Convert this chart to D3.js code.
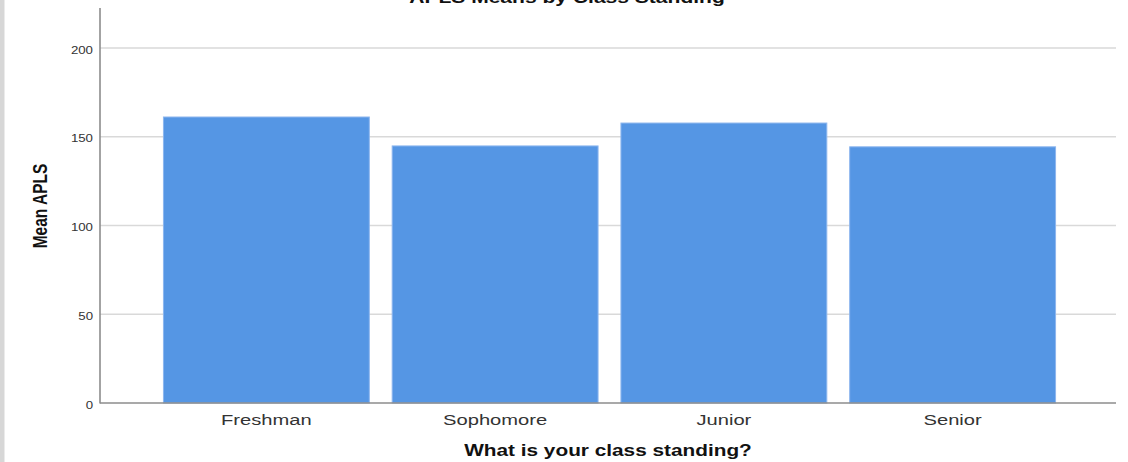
<!DOCTYPE html>
<html>
<head>
<meta charset="utf-8">
<script src="https://cdn.jsdelivr.net/npm/d3@7"></script>
<style>
  html, body { margin: 0; padding: 0; background: #fff; }
  svg { display: block; }
  text { font-family: "Liberation Sans", Arial, sans-serif; }
</style>
</head>
<body>
<svg id="chart" width="1128" height="462"></svg>
<script>
const categories = ["Freshman", "Sophomore", "Junior", "Senior"];
const meanAPLS = [161.1, 144.8, 157.7, 144.3];
const yTicks = [0, 50, 100, 150, 200];
const title = "APLS Means by Class Standing";
const xTitle = "What is your class standing?";
const yTitle = "Mean APLS";

const svg = d3.select("#chart");
const W = 1128, H = 462;
const sx = 1.3; // horizontal stretch of the original picture

svg.append("rect").attr("x", 0).attr("y", 0).attr("width", W).attr("height", H).attr("fill", "#fff");
svg.append("rect").attr("x", 0).attr("y", 0).attr("width", 4.5).attr("height", H).attr("fill", "#d7d7d7");

const plotL = 100, plotR = 1116, plotT = 8, plotB = 403;

const y = d3.scaleLinear().domain([0, 222.5]).range([plotB, plotT]);
const x = d3.scaleBand().domain(categories).range([152, 1067]).paddingInner(0.1).paddingOuter(0.05);

// gridlines
svg.append("g").selectAll("line").data(yTicks.filter(d => d > 0)).join("line")
  .attr("x1", plotL).attr("x2", plotR)
  .attr("y1", d => y(d)).attr("y2", d => y(d))
  .attr("stroke", "#d9d9d9").attr("stroke-width", 1.5);

// bars
svg.append("g").selectAll("rect").data(categories).join("rect")
  .attr("x", d => x(d))
  .attr("width", x.bandwidth())
  .attr("y", (d, i) => y(meanAPLS[i]))
  .attr("height", (d, i) => plotB - y(meanAPLS[i]))
  .attr("fill", "#5596e4")
  .attr("stroke", "#8db6ee")
  .attr("stroke-width", 1);

// axes lines
svg.append("line").attr("x1", plotL).attr("x2", plotL).attr("y1", plotT).attr("y2", plotB + 0.5)
  .attr("stroke", "#8c8c8c").attr("stroke-width", 1.6);
svg.append("line").attr("x1", plotL).attr("x2", plotR).attr("y1", plotB).attr("y2", plotB)
  .attr("stroke", "#8c8c8c").attr("stroke-width", 1.6);

function stretchedText(g, xPos, yPos, str, opts) {
  const t = g.append("text")
    .attr("transform", `translate(${xPos},${yPos}) scale(${sx},1)` + (opts.rotate ? ` rotate(${opts.rotate})` : ""))
    .attr("text-anchor", opts.anchor || "middle")
    .attr("font-size", opts.size)
    .attr("font-weight", opts.weight || "normal")
    .attr("fill", opts.fill || "#222")
    .text(str);
  if (opts.dy) t.attr("dy", opts.dy);
  return t;
}

const labels = svg.append("g");
// y tick labels
yTicks.forEach(v => {
  stretchedText(labels, 93, y(v) + 2, String(v), { anchor: "end", size: 10.2, dy: "0.35em", fill: "#333" });
});
// x tick labels
categories.forEach(c => {
  stretchedText(labels, x(c) + x.bandwidth() / 2, 425, c, { size: 15.5, fill: "#333" });
});
// axis titles
stretchedText(labels, 608, 456, xTitle, { size: 16, weight: "bold", fill: "#111" });
stretchedText(labels, 47, 206, yTitle, { size: 15.5, weight: "bold", fill: "#111", rotate: -90 });
// chart title (cut off at top)
stretchedText(labels, 567, 3, title, { size: 16.2, weight: "bold", fill: "#111" });
</script>
</body>
</html>
